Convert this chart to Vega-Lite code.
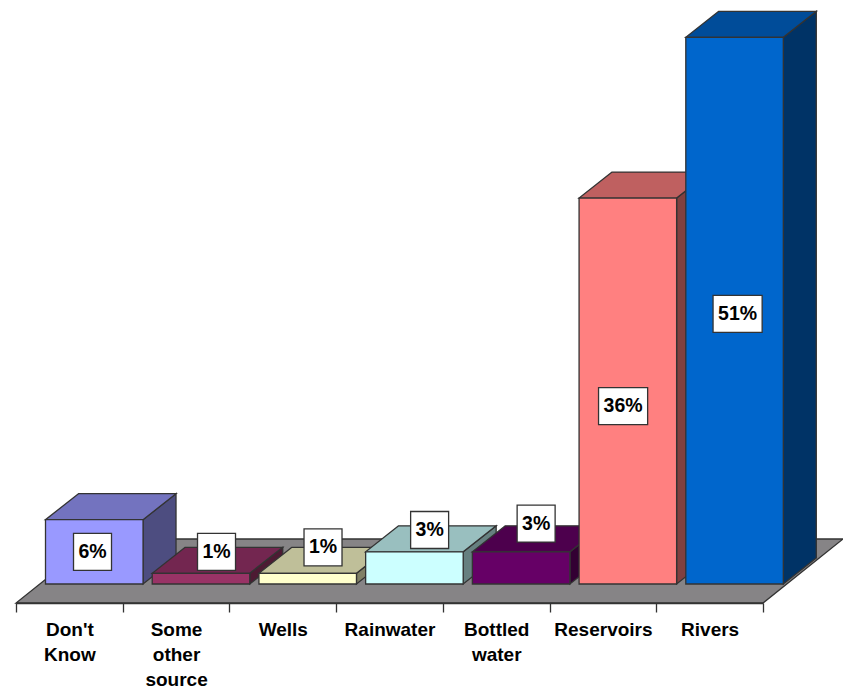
{
  "$schema": "https://vega.github.io/schema/vega-lite/v6.json",
  "width": 747,
  "height": 603,
  "autosize": "none",
  "padding": {"left": 16, "top": 0, "right": 80, "bottom": 85},
  "background": "#ffffff",
  "view": {"stroke": null},
  "layer": [
    {
      "description": "Sloped grey floor under the bars, carrying the category axis",
      "data": {"values": [{"depth": 0}, {"depth": 1}]},
      "transform": [
        {"calculate": "-1.772 + datum.depth * 5.97", "as": "fy"},
        {"calculate": "datum.depth * 0.75", "as": "fx"},
        {"calculate": "7 + datum.depth * 0.75", "as": "fx2"}
      ],
      "mark": {"type": "area", "orient": "horizontal", "fill": "#868486", "stroke": "#333333", "strokeWidth": 1.3, "line": false},
      "encoding": {
        "y": {"field": "fy", "type": "quantitative", "scale": {"domain": [-1.772, 54.48], "nice": false, "zero": false}, "axis": null},
        "x": {
          "field": "fx", "type": "quantitative",
          "scale": {"domain": [0, 7], "nice": false, "zero": false},
          "axis": {
            "title": null, "grid": false, "zindex": 1,
            "values": [0, 0.5, 1, 1.5, 2, 2.5, 3, 3.5, 4, 4.5, 5, 5.5, 6, 6.5, 7],
            "labelExpr": "datum.value % 1 == 0 ? '' : split(['Don\\'t|Know', 'Some|other|source', 'Wells', 'Rainwater', 'Bottled|water', 'Reservoirs', 'Rivers'][floor(datum.value)], '|')",
            "labelOverlap": false, "labelBound": false, "labelFlush": false,
            "labelFont": "Liberation Sans", "labelFontWeight": "bold", "labelFontSize": 19, "labelColor": "#000000",
            "labelLineHeight": 25, "labelPadding": 8, "labelAlign": "center", "labelBaseline": "top", "labelLimit": 0,
            "domainColor": "#333333", "domainWidth": 1.3,
            "tickColor": "#333333", "tickWidth": 1.3, "tickSize": 9,
            "tickOpacity": {"condition": {"test": "datum.value % 1 == 0", "value": 1}, "value": 0}
          }
        },
        "x2": {"field": "fx2"}
      }
    },
    {
      "description": "Seven 3D bars: side faces, top faces, front faces, then value boxes",
      "data": {
        "values": [
          {"idx": 0, "category": "Don't Know", "value": 6},
          {"idx": 1, "category": "Some other source", "value": 1},
          {"idx": 2, "category": "Wells", "value": 1},
          {"idx": 3, "category": "Rainwater", "value": 3},
          {"idx": 4, "category": "Bottled water", "value": 3},
          {"idx": 5, "category": "Reservoirs", "value": 36},
          {"idx": 6, "category": "Rivers", "value": 51}
        ]
      },
      "transform": [
        {"calculate": "datum.idx + 0.2765", "as": "x0"},
        {"calculate": "datum.x0 + 0.914", "as": "x1"},
        {"calculate": "datum.value + '%'", "as": "label"},
        {"calculate": "[0.717, 1.879, 2.877, 3.876, 4.874, 5.689, 6.762][datum.idx]", "as": "lx"},
        {"calculate": "[3.0, 3.0, 3.41, 5.04, 5.64, 16.6, 25.2][datum.idx]", "as": "ly"},
        {"calculate": "datum.value >= 10 ? 0.23 : 0.178", "as": "halfW"},
        {"calculate": "[0, 1]", "as": "depths"}
      ],
      "layer": [
        {
          "transform": [
            {"flatten": ["depths"], "as": ["depth"]},
            {"calculate": "datum.x1 + datum.depth * 0.309", "as": "sx"},
            {"calculate": "datum.value + datum.depth * 2.425", "as": "sy"},
            {"calculate": "datum.depth * 2.425", "as": "sy2"}
          ],
          "mark": {"type": "area", "orient": "vertical", "stroke": "#333333", "strokeWidth": 1.3, "line": false},
          "encoding": {
            "x": {"field": "sx", "type": "quantitative", "scale": {"domain": [0, 7], "nice": false, "zero": false}},
            "y": {"field": "sy", "type": "quantitative", "scale": {"domain": [-1.772, 54.48], "nice": false, "zero": false}, "axis": null},
            "y2": {"field": "sy2"},
            "detail": {"field": "category"},
            "fill": {
              "field": "category", "type": "nominal", "legend": null,
              "scale": {
                "domain": ["Don't Know", "Some other source", "Wells", "Rainwater", "Bottled water", "Reservoirs", "Rivers"],
                "range": ["#4D4D80", "#4D1A33", "#808066", "#668080", "#330033", "#804040", "#003366"]
              }
            }
          }
        },
        {
          "transform": [
            {"flatten": ["depths"], "as": ["depth"]},
            {"calculate": "datum.value + datum.depth * 2.425", "as": "ty"},
            {"calculate": "datum.x0 + datum.depth * 0.309", "as": "tx"},
            {"calculate": "datum.x1 + datum.depth * 0.309", "as": "tx2"}
          ],
          "mark": {"type": "area", "orient": "horizontal", "stroke": "#333333", "strokeWidth": 1.3, "line": false},
          "encoding": {
            "y": {"field": "ty", "type": "quantitative", "scale": {"domain": [-1.772, 54.48], "nice": false, "zero": false}, "axis": null},
            "x": {"field": "tx", "type": "quantitative", "scale": {"domain": [0, 7], "nice": false, "zero": false}},
            "x2": {"field": "tx2"},
            "detail": {"field": "category"},
            "fill": {
              "field": "category", "type": "nominal", "legend": null,
              "scale": {
                "domain": ["Don't Know", "Some other source", "Wells", "Rainwater", "Bottled water", "Reservoirs", "Rivers"],
                "range": ["#7373BF", "#732650", "#BFBF99", "#99BFBF", "#4D004D", "#BF6060", "#004C99"]
              }
            }
          }
        },
        {
          "mark": {"type": "rect", "stroke": "#333333", "strokeWidth": 1.3},
          "encoding": {
            "x": {"field": "x0", "type": "quantitative", "scale": {"domain": [0, 7], "nice": false, "zero": false}},
            "x2": {"field": "x1"},
            "y": {"field": "value", "type": "quantitative", "scale": {"domain": [-1.772, 54.48], "nice": false, "zero": false}, "axis": null},
            "y2": {"datum": 0},
            "fill": {
              "field": "category", "type": "nominal", "legend": null,
              "scale": {
                "domain": ["Don't Know", "Some other source", "Wells", "Rainwater", "Bottled water", "Reservoirs", "Rivers"],
                "range": ["#9999FF", "#993366", "#FFFFCC", "#CCFFFF", "#660066", "#FF8080", "#0066CC"]
              }
            }
          }
        },
        {
          "transform": [
            {"calculate": "datum.lx - datum.halfW", "as": "bx"},
            {"calculate": "datum.lx + datum.halfW", "as": "bx2"},
            {"calculate": "datum.ly - 1.726", "as": "by"},
            {"calculate": "datum.ly + 1.726", "as": "by2"}
          ],
          "mark": {"type": "rect", "fill": "#ffffff", "stroke": "#333333", "strokeWidth": 1.3},
          "encoding": {
            "x": {"field": "bx", "type": "quantitative", "scale": {"domain": [0, 7], "nice": false, "zero": false}},
            "x2": {"field": "bx2"},
            "y": {"field": "by", "type": "quantitative", "scale": {"domain": [-1.772, 54.48], "nice": false, "zero": false}, "axis": null},
            "y2": {"field": "by2"}
          }
        },
        {
          "mark": {"type": "text", "font": "Liberation Sans", "fontWeight": "bold", "fontSize": 19.5, "color": "#000000", "align": "center", "baseline": "middle"},
          "encoding": {
            "x": {"field": "lx", "type": "quantitative", "scale": {"domain": [0, 7], "nice": false, "zero": false}},
            "y": {"field": "ly", "type": "quantitative", "scale": {"domain": [-1.772, 54.48], "nice": false, "zero": false}, "axis": null},
            "text": {"field": "label"}
          }
        }
      ],
      "resolve": {"scale": {"fill": "independent"}}
    }
  ]
}
